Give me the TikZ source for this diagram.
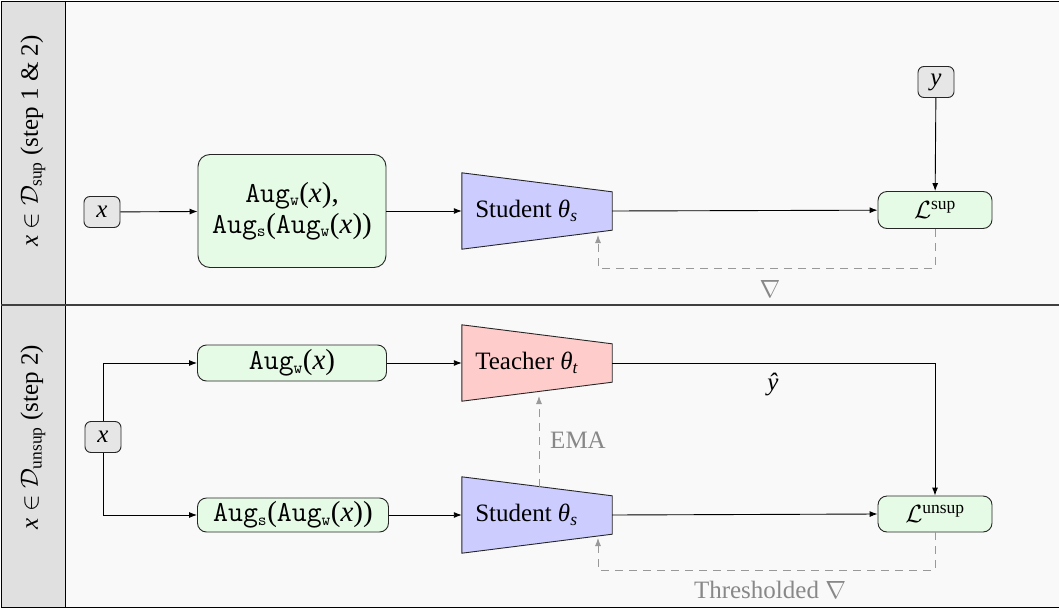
\documentclass[tikz,border=0pt]{standalone}
\usepackage{fontspec}
\setmainfont{Liberation Serif}
\usetikzlibrary{arrows.meta}
\definecolor{bgmain}{HTML}{F9F9F9}
\definecolor{bgcol}{HTML}{E0E0E0}
\definecolor{gfill}{HTML}{E6FBE6}
\definecolor{bfill}{HTML}{CCCCFF}
\definecolor{rfill}{HTML}{FFCCCC}
\definecolor{nfill}{HTML}{E6E6E6}
\definecolor{gline}{HTML}{999999}
\definecolor{gtext}{HTML}{888888}
\newcommand{\mysub}[1]{\ensuremath{_{\hbox{\ttfamily\fontsize{17}{17}\selectfont #1}}}}
\newcommand{\augw}{\mbox{\ttfamily Aug}\mysub{w}}
\newcommand{\augs}{\mbox{\ttfamily Aug}\mysub{s}}
\newcommand{\vx}{\textit{x}}
\tikzset{
  big/.style={font=\fontsize{25}{29}\selectfont},
  augfont/.style={font=\fontsize{29}{31}\selectfont},
  inbox/.style={big, draw=black!85, line width=0.9pt, rounded corners=6pt, fill=nfill, minimum width=36pt, minimum height=31pt, inner sep=0pt},
  gbox/.style={big, draw=black!85, line width=0.9pt, rounded corners=9pt, fill=gfill, inner sep=0pt, align=center},
  flow/.style={line width=0.9pt, -{Latex[length=8pt,width=6pt]}},
  grad/.style={line width=0.9pt, gline, dash pattern=on 8pt off 6pt, -{Latex[length=8pt,width=6pt]}},
  trap/.style={minimum width=150pt, minimum height=76pt, inner sep=0pt},
  glabel/.style={big, text=gtext},
}
\begin{document}
\begin{tikzpicture}[x=1pt,y=-1pt]
\useasboundingbox (0,0) rectangle (1059,610);
% backgrounds
\fill[bgmain] (1,1) rectangle (1059,607);
\fill[bgcol] (1,1) rectangle (65,607);
\draw[line width=0.9pt] (1059,1) -- (1,1) -- (1,607) -- (1059,607);
\draw[line width=0.9pt] (65,1) -- (65,607);
\draw[line width=1.8pt, black!75] (1,305) -- (1059,305);
% column labels
\node[big, rotate=90] (lab1) at (33,141) {\vx\ $\in\mathcal{D}_{\mathrm{sup}}$ (step 1 \& 2)};
\node[big, rotate=90] (lab2) at (33,437) {\vx\ $\in\mathcal{D}_{\mathrm{unsup}}$ (step 2)};

% ---------- top panel ----------
\node[inbox] (x1) at (102,212) {\vx};
\node[inbox] (y1) at (936,82) {\textit{y}};
\node[gbox, augfont, minimum width=188pt, minimum height=113pt, rounded corners=12pt] (aug1) at (292,211) {\augw(\vx),\\\augs(\augw(\vx))};
\node[trap] (st1) at (537,211) {};
\filldraw[fill=bfill, draw=black!85, line width=0.9pt] (st1.north west) -- ([yshift=-19pt]st1.north east) -- ([yshift=19pt]st1.south east) -- (st1.south west) -- cycle;
\node[big, anchor=west] (st1t) at ([xshift=10pt]st1.west) {Student \textit{θ}\textsubscript{\textit{s}}};
\node[gbox, minimum width=114pt, minimum height=37pt] (Ls) at (935,210) {$\mathcal{L}^{\mathrm{sup}}$};

\draw[flow] (x1) -- (aug1);
\draw[flow] (aug1) -- (st1);
\draw[flow] (st1.east) -- (Ls);
\draw[flow] (y1) -- (Ls);
\coordinate (g1) at (598,268);
\coordinate (g1t) at (598,235);
\draw[grad] (Ls.south) |- (g1) -- (g1t);
\node[glabel] (nab1) at (770,289) {$\nabla$};

% ---------- bottom panel ----------
\node[inbox] (x2) at (103,437) {\vx};
\node[gbox, augfont, minimum width=189pt, minimum height=36pt] (augw) at (292,363) {\augw(\vx)};
\node[gbox, augfont, minimum width=191pt, minimum height=34pt] (augs) at (293,515) {\augs(\augw(\vx))};
\node[trap] (te) at (537,363) {};
\filldraw[fill=rfill, draw=black!85, line width=0.9pt] (te.north west) -- ([yshift=-19pt]te.north east) -- ([yshift=19pt]te.south east) -- (te.south west) -- cycle;
\node[big, anchor=west] (tet) at ([xshift=10pt]te.west) {Teacher \textit{θ}\textsubscript{\textit{t}}};
\node[trap] (st2) at (537,515) {};
\filldraw[fill=bfill, draw=black!85, line width=0.9pt] (st2.north west) -- ([yshift=-19pt]st2.north east) -- ([yshift=19pt]st2.south east) -- (st2.south west) -- cycle;
\node[big, anchor=west] (st2t) at ([xshift=10pt]st2.west) {Student \textit{θ}\textsubscript{\textit{s}}};
\node[gbox, minimum width=114pt, minimum height=36pt] (Lu) at (935,514) {$\mathcal{L}^{\mathrm{unsup}}$};

\draw[flow] (x2.north) |- (augw.west);
\draw[flow] (x2.south) |- (augs.west);
\draw[flow] (augw) -- (te);
\draw[flow] (augs) -- (st2);
\draw[flow] (te.east) -| (Lu.north);
\draw[flow] (st2.east) -- (Lu.west);
\node[big] (yhat) at (773,385) {\textit{ŷ}};
\coordinate (e1) at (539,487);
\coordinate (e2) at (539,396);
\draw[grad] (e1) -- (e2);
\node[glabel] (ema) at (578,440) {EMA};
\coordinate (g2) at (598,570);
\coordinate (g2t) at (598,538);
\draw[grad] (Lu.south) |- (g2) -- (g2t);
\node[glabel] (nab2) at (770,590) {Thresholded $\nabla$};
\end{tikzpicture}
\end{document}
